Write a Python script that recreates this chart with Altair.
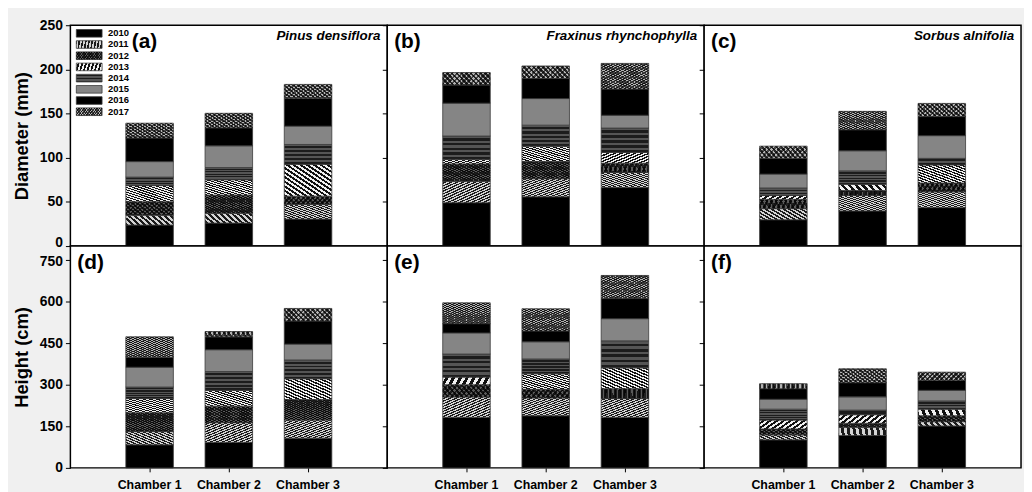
import altair as alt
import pandas as pd

chambers = ["Chamber 1", "Chamber 2", "Chamber 3"]
years = ["2010", "2011", "2012", "2013", "2014", "2015", "2016", "2017"]
species = ["Pinus densiflora", "Fraxinus rhynchophylla", "Sorbus alnifolia"]
tags = ["(a)", "(b)", "(c)", "(d)", "(e)", "(f)"]

# Annual increments (2010 ... 2017) for Chamber 1, 2, 3
diam_pinus = [[23.8, 11.2, 15.2, 18.3, 9.6, 17.5, 26.8, 16.7],
              [26.0, 11.2, 20.5, 17.4, 13.8, 24.6, 20.4, 16.4],
              [30.5, 16.7, 9.3, 36.1, 22.4, 20.8, 31.6, 15.6]]
diam_fraxinus = [[49.1, 24.2, 19.7, 5.2, 26.4, 37.2, 20.5, 14.1],
                 [55.8, 20.5, 19.3, 17.5, 23.8, 30.1, 22.7, 14.2],
                 [66.2, 17.1, 10.5, 12.2, 27.6, 14.5, 29.7, 29.0]]
diam_sorbus = [[29.8, 12.6, 10.4, 4.5, 8.5, 15.7, 17.8, 13.8],
               [39.8, 17.5, 5.6, 7.0, 15.3, 22.7, 23.8, 20.8],
               [43.5, 17.9, 10.0, 20.5, 7.4, 25.7, 21.6, 14.9]]
height_pinus = [[83.3, 47.6, 67.9, 51.2, 41.7, 71.4, 35.7, 73.8],
                [91.7, 71.4, 59.5, 57.2, 67.8, 78.6, 46.4, 19.1],
                [107.1, 65.5, 73.8, 75.0, 67.9, 57.1, 83.4, 45.2]]
height_fraxinus = [[182.1, 73.9, 44.0, 27.4, 83.3, 76.2, 33.3, 75.0],
                   [188.1, 64.3, 30.9, 56.0, 53.6, 61.9, 39.2, 79.8],
                   [182.1, 67.9, 35.7, 75.0, 97.6, 79.8, 72.6, 83.3]]
height_sorbus = [[101.2, 17.9, 21.4, 32.1, 39.3, 35.7, 38.1, 17.9],
                 [116.7, 29.8, 14.3, 31.0, 16.7, 47.6, 51.2, 50.0],
                 [151.2, 15.5, 21.4, 23.8, 29.8, 38.1, 35.7, 29.7]]

diam_ticks = [0, 50, 100, 150, 200, 250]
height_ticks = [0, 150, 300, 450, 600, 750]

panel_data = [diam_pinus, diam_fraxinus, diam_sorbus,
              height_pinus, height_fraxinus, height_sorbus]

rows = []
for tag, arr in zip(tags, panel_data):
    for ci, ch in enumerate(chambers):
        for yi, yr in enumerate(years):
            rows.append({"panel": tag, "chamber": ch, "year": yr,
                         "order": yi, "value": arr[ci][yi]})
df = pd.DataFrame(rows)
legend_df = pd.DataFrame({"year": years})

FONT = "Liberation Sans"


def stripes(c1, c2, n, x1, y1, x2, y2):
    stops = []
    for i in range(n):
        a = round(i / n, 5)
        b = round((i + 0.5) / n, 5)
        c = round((i + 1) / n, 5)
        stops += [{"offset": a, "color": c1}, {"offset": b, "color": c1},
                  {"offset": b, "color": c2}, {"offset": c, "color": c2}]
    return {"gradient": "linear", "x1": x1, "y1": y1, "x2": x2, "y2": y2,
            "stops": stops}


fills = {
    "2010": "#000000",
    "2011": stripes("#d4d4d4", "#1a1a1a", 16, 0, 0, 1, 1),
    "2012": stripes("#5a5a5a", "#141414", 20, 0, 0, 1, 1),
    "2013": stripes("#f0f0f0", "#111111", 14, 1, 0, 0, 1),
    "2014": stripes("#555555", "#1c1c1c", 5, 0, 0, 0, 1),
    "2015": "#858585",
    "2016": "#000000",
    "2017": stripes("#b4b4b4", "#2a2a2a", 20, 0, 0, 1, 1),
}
overlays = {
    "2012": stripes("rgba(0,0,0,0)", "rgba(0,0,0,0.65)", 20, 1, 0, 0, 1),
    "2017": stripes("rgba(0,0,0,0)", "rgba(0,0,0,0.6)", 20, 1, 0, 0, 1),
}

xscale = alt.Scale(domain=chambers, paddingInner=0.4, paddingOuter=0.7)
leg_scale = alt.Scale(domain=years, range=[2.5, 93], paddingInner=0.32,
                      paddingOuter=0.16)
one_row = alt.Data(values=[{"k": 1}])


def make_panel(idx):
    tag = tags[idx]
    row, col = divmod(idx, 3)
    ydom = [0, 250] if row == 0 else [0, 800]
    yvals = diam_ticks if row == 0 else height_ticks
    ytitle = "Diameter (mm)" if row == 0 else "Height (cm)"
    h = 223 if row == 0 else 224

    if row == 1:
        xaxis = alt.Axis(title=None, labelAngle=0, labelFontSize=12.5,
                         labelFontWeight="bold", tickSize=4, labelPadding=7,
                         domain=False)
    else:
        xaxis = None
    if col == 0:
        if row == 0:
            loff = {"condition": {"test": "datum.value == 0", "value": -4},
                    "value": 0}
        else:
            loff = {"condition": {"test": "datum.value == 750", "value": 2},
                    "value": 0}
        yaxis = alt.Axis(title=ytitle, values=yvals, labelFontSize=14,
                         labelFontWeight="bold", titleFontSize=18.5,
                         titleFontWeight="bold", tickSize=5, labelPadding=3,
                         titlePadding=8, domain=False, grid=False,
                         labelOffset=loff)
    else:
        yaxis = alt.Axis(title=None, values=yvals, labels=False, tickSize=5,
                         domain=False, grid=False)

    base = (alt.Chart(df)
            .transform_filter(alt.datum.panel == tag)
            .transform_stack(stack="value", groupby=["chamber"], as_=["y0", "y1"],
                             sort=[alt.SortField("order", "ascending")]))
    enc = dict(
        x=alt.X("chamber:N", scale=xscale, axis=xaxis, title=None),
        y=alt.Y("y0:Q", scale=alt.Scale(domain=ydom, nice=False, zero=True),
                axis=yaxis),
        y2="y1:Q",
    )
    bars = []
    for yr in years:
        sub = base.transform_filter(alt.datum.year == yr)
        bars.append(sub.mark_bar(fill=fills[yr], stroke="#3a3a3a",
                                 strokeWidth=0.8).encode(**enc))
        if yr in overlays:
            bars.append(sub.mark_bar(fill=overlays[yr], strokeWidth=0)
                        .encode(**enc))

    label_x = 62 if idx == 0 else 7
    texts = [alt.Chart(one_row).mark_text(
        text=tag, align="left", baseline="middle", fontSize=21,
        fontWeight="bold", font=FONT, color="black"
    ).encode(x=alt.value(label_x), y=alt.value(17))]
    if row == 0:
        texts.append(alt.Chart(one_row).mark_text(
            text=species[col], align="right", baseline="middle", fontSize=13.5,
            fontWeight="bold", fontStyle="italic", font=FONT, color="black"
        ).encode(x=alt.value(313), y=alt.value(11)))

    main = alt.layer(*bars, *texts)
    if idx == 0:
        leg = []
        for yr in years:
            lsub = alt.Chart(legend_df).transform_filter(alt.datum.year == yr)
            leg.append(lsub.mark_rect(fill=fills[yr], stroke="#3a3a3a",
                                      strokeWidth=0.8).encode(
                x=alt.value(6), x2=alt.value(32),
                y=alt.Y("year:N", scale=leg_scale, axis=None)))
            if yr in overlays:
                leg.append(lsub.mark_rect(fill=overlays[yr], strokeWidth=0).encode(
                    x=alt.value(6), x2=alt.value(32),
                    y=alt.Y("year:N", scale=leg_scale, axis=None)))
        leg.append(alt.Chart(legend_df).mark_text(
            align="left", baseline="middle", fontSize=9.5, fontWeight="bold",
            font=FONT, color="black"
        ).encode(x=alt.value(38),
                 y=alt.Y("year:N", scale=leg_scale, axis=None),
                 text="year:N"))
        main = alt.layer(main, alt.layer(*leg)).resolve_scale(y="independent")
    return main.properties(width=320, height=h)


panels = [make_panel(i) for i in range(6)]
chart = (alt.concat(*panels, columns=3, spacing=0, bounds="flush")
         .properties(background="#f0f0f0",
                     padding={"left": 3, "top": 7, "right": 2, "bottom": 2})
         .configure(font=FONT)
         .configure_view(stroke="black", strokeWidth=1.5, fill="white")
         .configure_axis(labelColor="black", titleColor="black",
                         tickColor="black", labelFont=FONT, titleFont=FONT))

chart.save("out.html", embed_options={"renderer": "svg", "actions": False})
